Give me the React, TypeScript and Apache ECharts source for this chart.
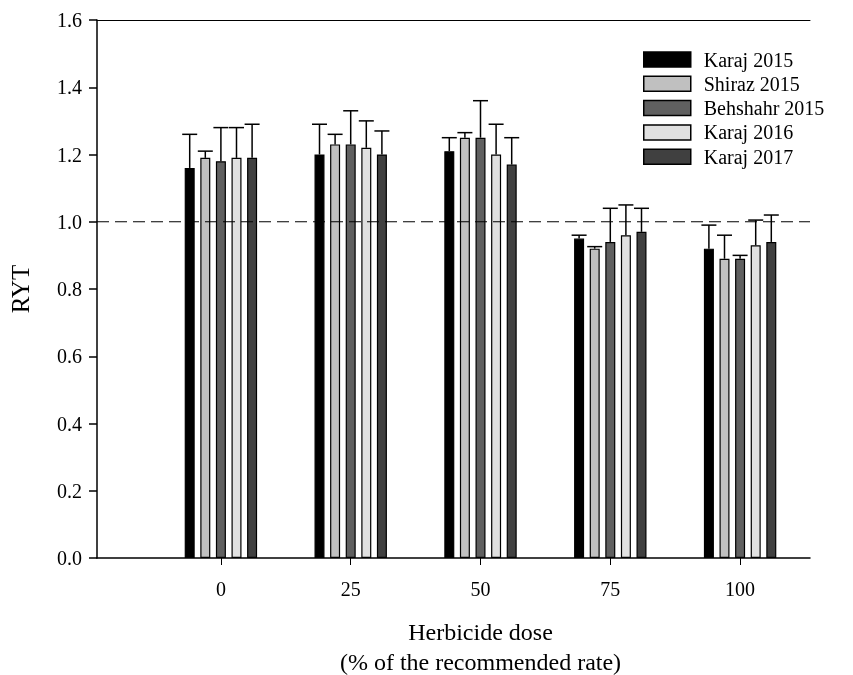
import React, { useEffect, useRef } from "react";
import * as echarts from "echarts";

const doses = ["0", "25", "50", "75", "100"];
const seriesNames = ["Karaj 2015", "Shiraz 2015", "Behshahr 2015", "Karaj 2016", "Karaj 2017"];
const karaj2015 = [1.16, 1.2, 1.21, 0.95, 0.92];
const karaj2015Err = [0.1, 0.09, 0.04, 0.01, 0.07];
const shiraz2015 = [1.19, 1.23, 1.25, 0.92, 0.89];
const shiraz2015Err = [0.02, 0.03, 0.015, 0.006, 0.07];
const behshahr2015 = [1.18, 1.23, 1.25, 0.94, 0.89];
const behshahr2015Err = [0.1, 0.1, 0.11, 0.1, 0.01];
const karaj2016 = [1.19, 1.22, 1.2, 0.96, 0.93];
const karaj2016Err = [0.09, 0.08, 0.09, 0.09, 0.075];
const karaj2017 = [1.19, 1.2, 1.17, 0.97, 0.94];
const karaj2017Err = [0.1, 0.07, 0.08, 0.07, 0.08];
const yTicks = [0, 0.2, 0.4, 0.6, 0.8, 1.0, 1.2, 1.4, 1.6];
const refValue = 1.0;

const FONT = "Liberation Serif";
const COLORS = ["#000000", "#c0c0c0", "#606060", "#e0e0e0", "#404040"];
const BAR_W = 10;
const BAR_STEP = 15.6;
const CAP_W = 15;

export default function App() {
  const ref = useRef<HTMLDivElement>(null);
  useEffect(() => {
    if (!ref.current) return;
    const chart = echarts.init(ref.current, null, { renderer: "svg" });
    const means = [karaj2015, shiraz2015, behshahr2015, karaj2016, karaj2017];
    const errs = [karaj2015Err, shiraz2015Err, behshahr2015Err, karaj2016Err, karaj2017Err];
    const errData: number[][] = [];
    means.forEach((m, i) => m.forEach((v, j) => errData.push([j, v, v + errs[i][j], i])));
    const yMax = yTicks[yTicks.length - 1];
    const yInt = yTicks[1] - yTicks[0];

    const option: any = {
      animation: false,
      grid: [
        { left: 97, right: 43, top: 20, bottom: 117, outerBoundsMode: "none" },
        { left: 156, right: 48, top: 20, bottom: 117, outerBoundsMode: "none" },
      ],
      legend: {
        data: seriesNames,
        orient: "vertical",
        left: 643,
        top: 49.5,
        padding: 0,
        itemWidth: 47,
        itemHeight: 15,
        itemGap: 4.3,
        icon: "rect",
        itemStyle: { borderColor: "#000", borderWidth: 1.5 },
        textStyle: { fontFamily: FONT, fontSize: 20, color: "#000", lineHeight: 20, padding: [0, 0, 0, 8] },
      },
      xAxis: [
        {
          gridIndex: 0, type: "value", min: 0, max: 1,
          axisLine: { show: true, onZero: false, lineStyle: { color: "#000", width: 1.5 } },
          axisTick: { show: false }, axisLabel: { show: false }, splitLine: { show: false },
        },
        {
          gridIndex: 1, type: "category", data: doses,
          axisLine: { show: false },
          axisTick: { show: true, alignWithLabel: true, length: 7, lineStyle: { color: "#000", width: 1 } },
          axisLabel: { fontFamily: FONT, fontSize: 20, color: "#000", margin: 21 },
          name: "Herbicide dose\n(% of the recommended rate)",
          nameLocation: "middle",
          nameGap: 59,
          nameTextStyle: { fontFamily: FONT, fontSize: 24, color: "#000", lineHeight: 30 },
        },
        {
          gridIndex: 0, type: "value", min: 0, max: 1, position: "top",
          axisLine: { show: true, onZero: false, lineStyle: { color: "#000", width: 1 } },
          axisTick: { show: false }, axisLabel: { show: false }, splitLine: { show: false },
        },
      ],
      yAxis: [
        {
          gridIndex: 0, type: "value", min: 0, max: yMax, interval: yInt,
          axisLine: { show: true, lineStyle: { color: "#000", width: 1.5 } },
          axisTick: { show: true, length: 8, lineStyle: { color: "#000", width: 1.5 } },
          axisLabel: { fontFamily: FONT, fontSize: 20, color: "#000", margin: 15, formatter: (v: number) => v.toFixed(1) },
          splitLine: { show: false },
          name: "RYT", nameLocation: "middle", nameRotate: 90, nameGap: 64,
          nameTextStyle: { fontFamily: FONT, fontSize: 25, color: "#000" },
        },
        { gridIndex: 1, type: "value", min: 0, max: yMax, interval: yInt, show: false },
      ],
      series: [
        ...means.map((m, i) => ({
          name: seriesNames[i], type: "bar", xAxisIndex: 1, yAxisIndex: 1,
          data: m, barWidth: BAR_W, barGap: ((BAR_STEP - BAR_W) / BAR_W) * 100 + "%",
          itemStyle: { color: COLORS[i], borderColor: "#000", borderWidth: 1.2 },
          z: 2,
        })),
        {
          type: "line", xAxisIndex: 0, yAxisIndex: 0, z: 3, symbol: "none", silent: true,
          data: [[0, refValue], [1, refValue]],
          lineStyle: { color: "#000", width: 1, type: [12, 6] },
        },
        {
          type: "custom", xAxisIndex: 1, yAxisIndex: 1, z: 4, silent: true,
          data: errData,
          encode: { x: 0, y: [1, 2] },
          renderItem: (params: any, api: any) => {
            const base = api.coord([api.value(0), api.value(1)]);
            const top = api.coord([api.value(0), api.value(2)]);
            const cx = base[0] + (api.value(3) - 2) * BAR_STEP;
            const st = { stroke: "#000", lineWidth: 1.5 };
            return {
              type: "group",
              children: [
                { type: "line", shape: { x1: cx, y1: base[1], x2: cx, y2: top[1] }, style: st },
                { type: "line", shape: { x1: cx - CAP_W / 2, y1: top[1], x2: cx + CAP_W / 2, y2: top[1] }, style: st },
              ],
            };
          },
        },
      ],
    };
    chart.setOption(option);
    return () => chart.dispose();
  }, []);
  return <div ref={ref} style={{ position: "fixed", left: 0, top: 0, width: 853, height: 675 }} />;
}
